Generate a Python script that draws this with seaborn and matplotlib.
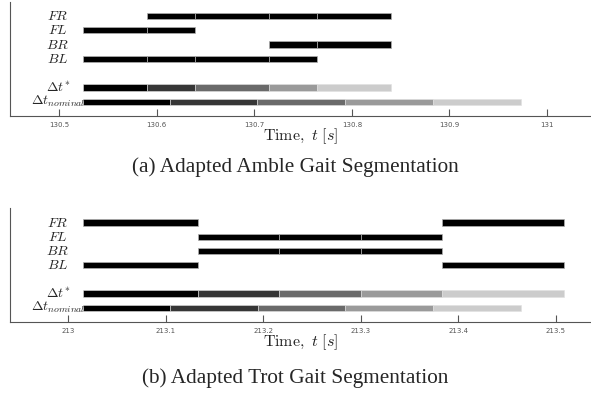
import numpy as np
import matplotlib
matplotlib.use("Agg")
import matplotlib.pyplot as plt
import seaborn as sns

# Phase boundaries [s]
amble_phases = [130.524, 130.5895, 130.639, 130.7147, 130.764, 130.84]
amble_nominal = [130.524, 130.614, 130.703, 130.793, 130.8835, 130.973]
trot_phases = [213.0146, 213.133, 213.216, 213.300, 213.383, 213.508]
trot_nominal = [213.0146, 213.1044, 213.194, 213.2836, 213.374, 213.464]

# Which phases each leg is in contact (index into the phase segments)
legs = ["FR", "FL", "BR", "BL"]
amble_contact = {"FR": [1, 2, 3, 4], "FL": [0, 1], "BR": [3, 4], "BL": [0, 1, 2, 3]}
trot_contact = {"FR": [0, 4], "FL": [1, 2, 3], "BR": [1, 2, 3], "BL": [0, 4]}

amble_ticks = [130.5, 130.6, 130.7, 130.8, 130.9, 131]
trot_ticks = [213, 213.1, 213.2, 213.3, 213.4, 213.5]
amble_xlim = (130.4495, 131.045)
trot_xlim = (212.94, 213.536)

row_labels = [r"$FR$", r"$FL$", r"$BR$", r"$BL$", r"$\Delta t^{*}$", r"$\Delta t_{nominal}$"]
row_y = [0, 1, 2, 3, 5, 6]
greys = ["#000000", "#363636", "#6a6a6a", "#9a9a9a", "#cccccc"]
captions = ["(a) Adapted Amble Gait Segmentation", "(b) Adapted Trot Gait Segmentation"]

sns.set_style("ticks")
plt.rcParams["mathtext.fontset"] = "cm"

fig = plt.figure(figsize=(5.91, 3.96), dpi=100)
ax_a = fig.add_axes([0.0169, 0.707, 0.983, 0.289])
ax_b = fig.add_axes([0.0169, 0.187, 0.983, 0.287])

bar_h = 0.44


def segs(bounds, idx):
    return [(bounds[i], bounds[i + 1] - bounds[i]) for i in idx]


def draw_panel(ax, phases, nominal, contact, ticks, xlim):
    for k, leg in enumerate(legs):
        ax.broken_barh(segs(phases, contact[leg]), (row_y[k] - bar_h / 2, bar_h),
                       facecolors="black", edgecolors="#b0b0b0", linewidth=0.5)
    n = len(phases) - 1
    ax.broken_barh(segs(phases, range(n)), (row_y[4] - bar_h / 2, bar_h),
                   facecolors=greys, edgecolors="#e0e0e0", linewidth=0.4)
    ax.broken_barh(segs(nominal, range(n)), (row_y[5] - bar_h / 2, bar_h),
                   facecolors=greys, edgecolors="#e0e0e0", linewidth=0.4)
    for lab, y in zip(row_labels, row_y):
        ax.text(0.0826, y, lab, transform=ax.get_yaxis_transform(),
                ha="center", va="center", fontsize=10)
    ax.set_xlim(*xlim)
    ax.set_ylim(7, -1)
    ax.set_yticks([])
    ax.set_xticks(ticks)
    ax.set_xticklabels([f"{t:g}" for t in ticks])
    ax.tick_params(axis="x", direction="in", length=5, width=0.8, pad=4,
                   labelsize=5, colors="#555555")
    ax.set_xlabel(r"$\mathrm{Time,}\ t\ [s]$", fontsize=11.5, labelpad=-1,
                  color="#222222")
    sns.despine(ax=ax, top=True, right=True)
    for side in ["left", "bottom"]:
        ax.spines[side].set_color("#555555")
        ax.spines[side].set_linewidth(0.8)


draw_panel(ax_a, amble_phases, amble_nominal, amble_contact, amble_ticks, amble_xlim)
draw_panel(ax_b, trot_phases, trot_nominal, trot_contact, trot_ticks, trot_xlim)

fig.text(0.5, 0.578, captions[0], ha="center", va="center",
         fontsize=15.3, family="Liberation Serif")
fig.text(0.5, 0.0455, captions[1], ha="center", va="center",
         fontsize=15.3, family="Liberation Serif")

fig.savefig("out.png", dpi=100)
